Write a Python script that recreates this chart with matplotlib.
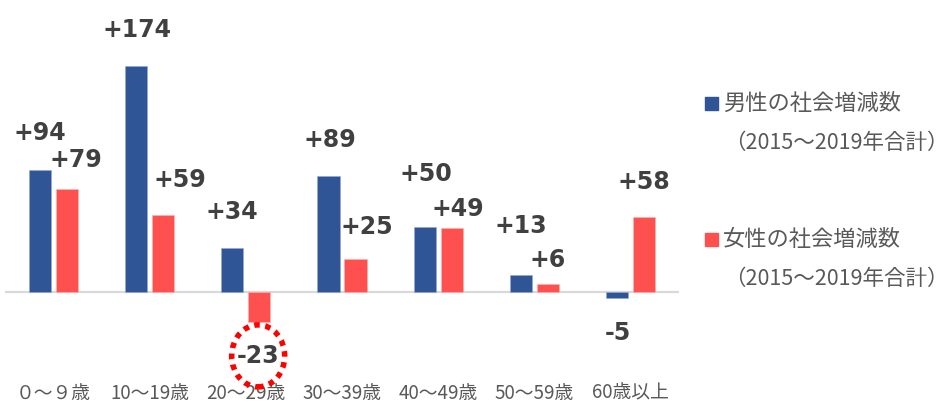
import matplotlib
matplotlib.use("Agg")
import matplotlib.pyplot as plt
import numpy as np
from matplotlib.patches import Ellipse, Rectangle
from matplotlib.transforms import ScaledTranslation

plt.rcParams['font.family'] = ['Noto Sans CJK JP', 'DejaVu Sans']

# data
categories = ['０～９歳', '10～19歳', '20～29歳', '30～39歳', '40～49歳', '50～59歳', '60歳以上']
male = [94, 174, 34, 89, 50, 13, -5]
female = [79, 59, -23, 25, 49, 6, 58]
legend_labels = ['男性の社会増減数', '女性の社会増減数']
legend_sub = '（2015～2019年合計）'

# label nudges in pixels (dx, dy) from the bar end
male_off = [(0, 37), (1, 36), (0, 36), (1, 36), (1, 53), (0, 49), (0, -35)]
female_off = [(9, 29), (17, 35), (-1, -34), (11, 32), (6, 19), (0, 24), (0, 35)]

c_male = '#2F5597'
c_female = '#FF5050'

fig = plt.figure(figsize=(9.48, 4.03), dpi=100)
ax = fig.add_axes([5/948, 23/403, 674/948, 370/403])

x = np.arange(len(categories))
w = 0.23
ax.bar(x - 0.14, male, w, color=c_male, edgecolor='#8FAADC', linewidth=0.4)
ax.bar(x + 0.14, female, w, color=c_female, edgecolor='#FFB0B0', linewidth=0.4)

ax.set_xlim(-0.5, 6.5)
ax.set_ylim(-67.7, 216.9)
ax.axhline(0, color='#D9D9D9', lw=1.6, zorder=0)
for s in ax.spines.values():
    s.set_visible(False)
ax.set_yticks([])
ax.set_xticks(x)
ax.set_xticklabels(categories, fontsize=13.5, color='#595959')
ax.tick_params(axis='x', length=0, pad=2)

def fmt(v):
    return f'+{v}' if v > 0 else f'{v}'

for vals, offs, dx0 in [(male, male_off, -0.14), (female, female_off, 0.14)]:
    for i, v in enumerate(vals):
        ax.annotate(fmt(v), (i + dx0, v), xytext=offs[i], textcoords='offset pixels',
                    ha='center', va='center', fontsize=17, fontweight='bold',
                    color='#404040', family='DejaVu Sans')

# dotted circle around the negative female value
tr = fig.dpi_scale_trans + ScaledTranslation(2 + 0.14, female[2], ax.transData)
ell = Ellipse((-0.01, -0.34), 0.53, 0.62, transform=tr, fill=False,
              edgecolor='#FF0000', lw=4, linestyle=(0, (1, 1)))
fig.add_artist(ell)

# legend
for j, (lab, col) in enumerate(zip(legend_labels, [c_male, c_female])):
    y0 = 1 - (103 + j * 136) / 403
    fig.add_artist(Rectangle((705/948, y0 - 7/403), 13/948, 13/403,
                             transform=fig.transFigure, color=col))
    fig.text(723/948, y0, lab, fontsize=16, color='#595959', va='center', ha='left')
    fig.text(724/948, y0 - 40/403, legend_sub, fontsize=15.5, color='#595959',
             va='center', ha='left')

fig.savefig('out.png', dpi=100)
